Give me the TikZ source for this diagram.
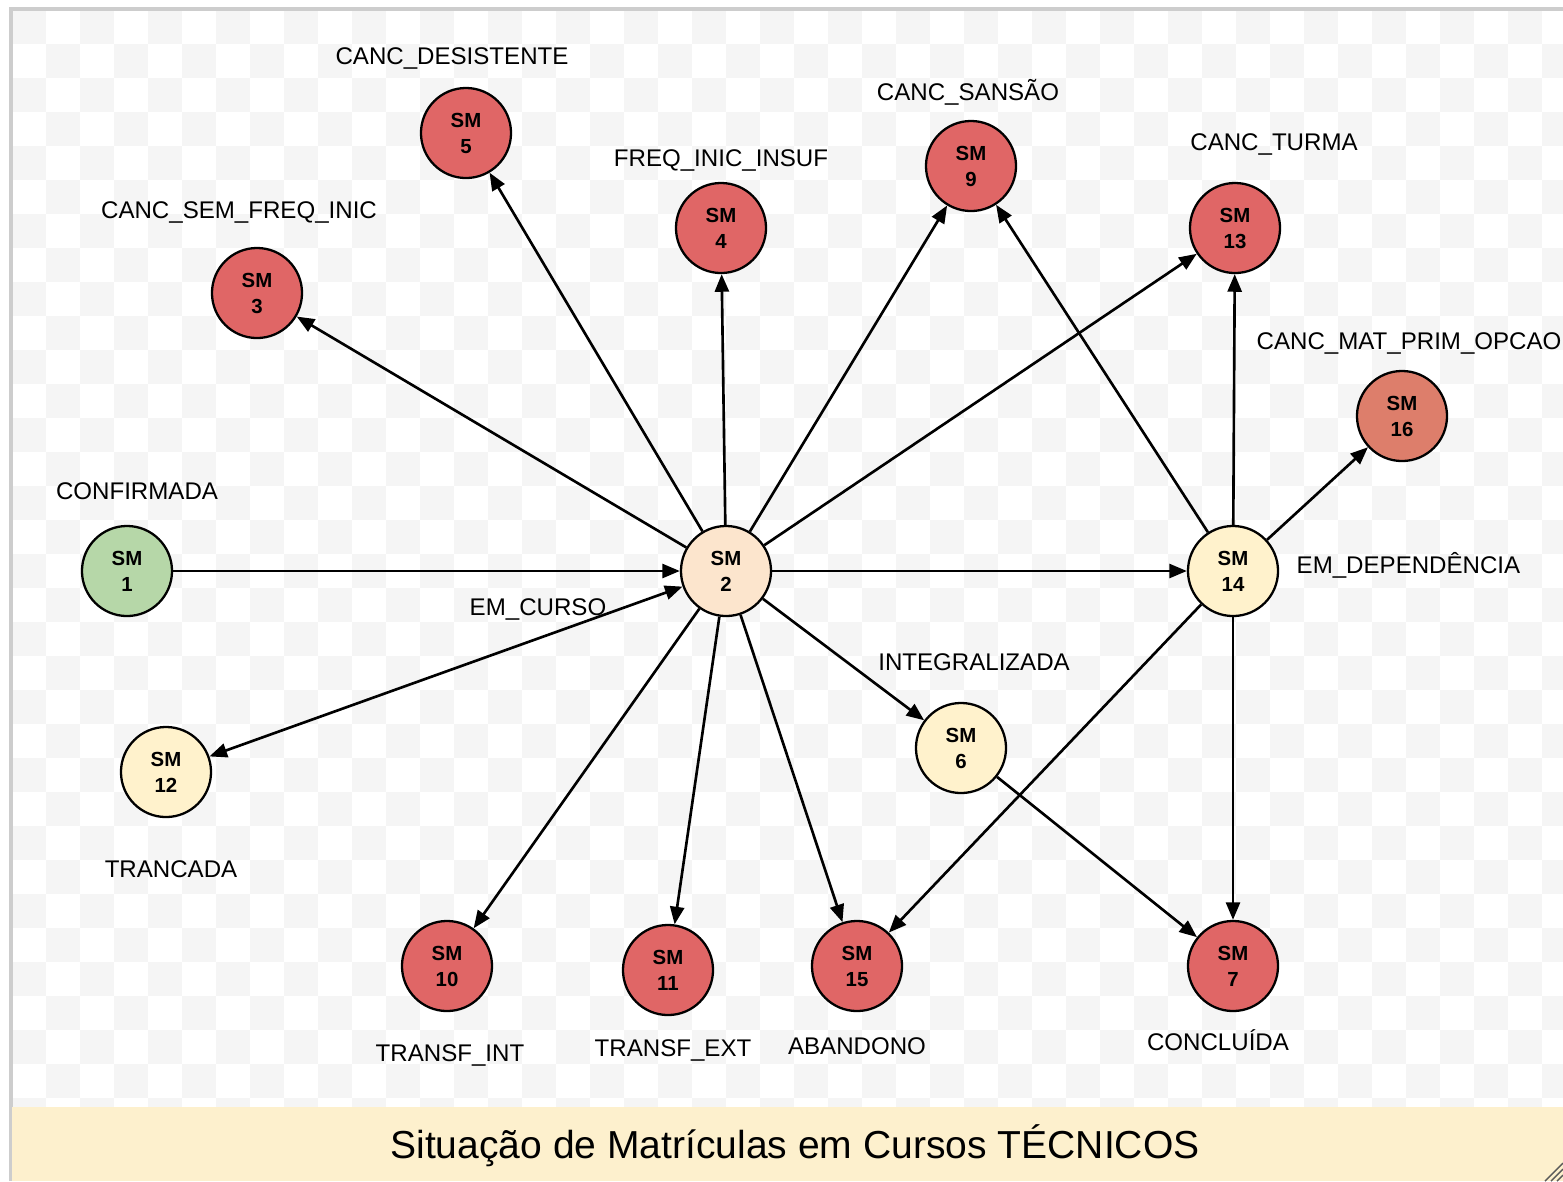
\documentclass[tikz,border=0pt]{standalone}
\usepackage{fontspec}
\setmainfont{Liberation Sans}
\usepackage{xcolor}
\usetikzlibrary{arrows.meta, positioning}
\definecolor{smred}{RGB}{224, 102, 102}
\definecolor{smsalmon}{RGB}{221, 126, 107}
\definecolor{smgreen}{RGB}{182, 215, 168}
\definecolor{smpeach}{RGB}{252, 229, 205}
\definecolor{smyellow}{RGB}{255, 242, 204}
\definecolor{bannerbg}{RGB}{253, 240, 205}
\definecolor{checkgray}{RGB}{245, 245, 245}
\definecolor{framegray}{RGB}{205, 205, 205}

\tikzset{
    >={Triangle[length=5pt, width=4pt]},
    smnode/.style={circle, draw=black, line width=0.65pt, minimum size=0.9cm, inner sep=0pt,
        align=center, font=\fontsize{5.8}{7.4}\selectfont\bfseries},
    smlabel/.style={font=\fontsize{6.85}{8}\selectfont, inner sep=0pt, anchor=base},
    flow/.style={line width=0.75pt, ->},
}

\begin{document}
\begin{tikzpicture}[x=0.01cm, y=-0.01cm]
    \useasboundingbox (0,0) rectangle (1563,1181);

    \begin{scope}
        \clip (12,10) rectangle (1563,1107);
        \foreach \i in {0,...,45} {
            \foreach \j in {0,...,32} {
                \pgfmathtruncatemacro\cellpar{mod(\i+\j,2)}
                \ifnum\cellpar=0
                    \fill[checkgray] (12+34*\i,10+34*\j) rectangle ++(34,34);
                \fi
            }
        }
    \end{scope}
    \draw[framegray, line width=1pt] (11,1181) -- (11,9) -- (1563,9);

    % banner
    \fill[bannerbg] (12,1107) rectangle (1563,1181);
    \node[font=\fontsize{11.1}{13}\selectfont, anchor=base] (titulo) at (795,1158) {Situação de Matrículas em Cursos TÉCNICOS};
    \foreach \d in {0,6,12} \draw[gray!70!black, line width=0.4pt] (1545+\d,1181) -- (1563,1163+\d);

    % states
    \node[smnode, fill=smgreen] (sm1) at (127,571) {SM\\1};
    \node[smnode, fill=smpeach] (sm2) at (726,571) {SM\\2};
    \node[smnode, fill=smred] (sm3) at (257,293) {SM\\3};
    \node[smnode, fill=smred] (sm4) at (721,228) {SM\\4};
    \node[smnode, fill=smred] (sm5) at (466,133) {SM\\5};
    \node[smnode, fill=smyellow] (sm6) at (961,748) {SM\\6};
    \node[smnode, fill=smred] (sm7) at (1233,966) {SM\\7};
    \node[smnode, fill=smred] (sm9) at (971,166) {SM\\9};
    \node[smnode, fill=smred] (sm10) at (447,966) {SM\\10};
    \node[smnode, fill=smred] (sm11) at (668,970) {SM\\11};
    \node[smnode, fill=smyellow] (sm12) at (166,772) {SM\\12};
    \node[smnode, fill=smred] (sm13) at (1235,228) {SM\\13};
    \node[smnode, fill=smyellow] (sm14) at (1233,571) {SM\\14};
    \node[smnode, fill=smred] (sm15) at (857,966) {SM\\15};
    \node[smnode, fill=smsalmon] (sm16) at (1402,416) {SM\\16};

    % labels
    \node[smlabel] (confirmada) at (137,499) {CONFIRMADA};
    \node[smlabel] (semfreq) at (239,218) {CANC\_SEM\_FREQ\_INIC};
    \node[smlabel] (desistente) at (452,64) {CANC\_DESISTENTE};
    \node[smlabel] (freqinsuf) at (721,166) {FREQ\_INIC\_INSUF};
    \node[smlabel] (sansao) at (968,100) {CANC\_SANSÃO};
    \node[smlabel] (turma) at (1274,150) {CANC\_TURMA};
    \node[smlabel, anchor=base west] (primopcao) at (1256,349) {CANC\_MAT\_PRIM\_OPCAO};
    \node[smlabel, anchor=base west] (dependencia) at (1296,573) {EM\_DEPENDÊNCIA};
    \node[smlabel] (emcurso) at (538,615) {EM\_CURSO};
    \node[smlabel] (integralizada) at (974,670) {INTEGRALIZADA};
    \node[smlabel] (trancada) at (171,877) {TRANCADA};
    \node[smlabel] (transfint) at (450,1061) {TRANSF\_INT};
    \node[smlabel] (transfext) at (673,1056) {TRANSF\_EXT};
    \node[smlabel] (abandono) at (857,1054) {ABANDONO};
    \node[smlabel] (concluida) at (1218,1050) {CONCLUÍDA};

    % transitions
    \draw[flow] (sm1) -- (sm2);
    \foreach \t in {sm3,sm4,sm5,sm6,sm9,sm10,sm11,sm13,sm14,sm15}
        \draw[flow] (sm2) -- (\t);
    \draw[flow, <->] (sm2) -- (sm12);
    \foreach \t in {sm7,sm9,sm13,sm15,sm16}
        \draw[flow] (sm14) -- (\t);
    \draw[flow] (sm6) -- (sm7);
\end{tikzpicture}
\end{document}
